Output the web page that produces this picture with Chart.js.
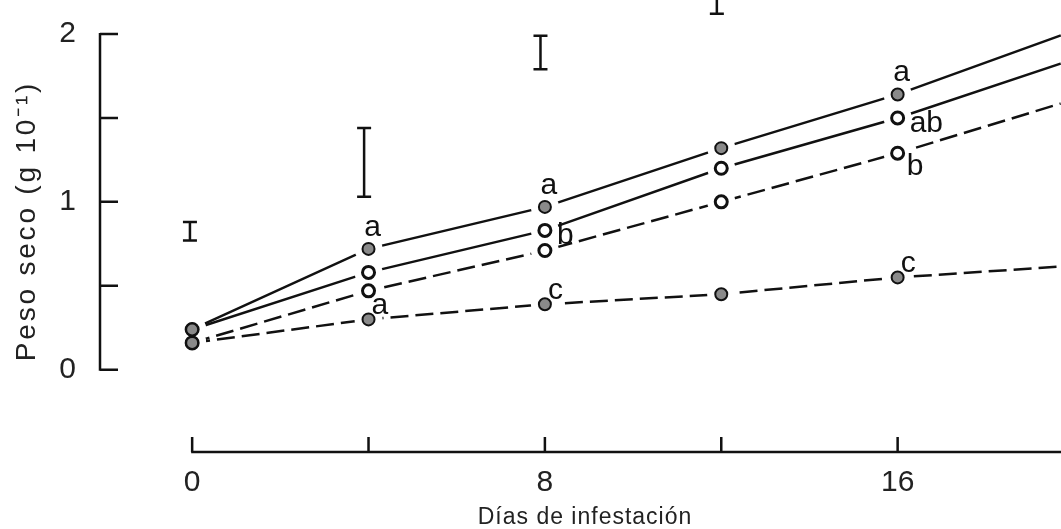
<!DOCTYPE html>
<html><head><meta charset="utf-8">
<script src="https://cdn.jsdelivr.net/npm/chart.js@4"></script>
<style>
html,body{margin:0;padding:0;background:#fff;overflow:hidden;width:1061px;height:529px}
#wrap{width:1100px;height:529px;position:relative}
</style></head>
<body><div id="wrap"><canvas id="c" width="1100" height="529"></canvas></div>
<script>
// ---- data ----
const days = [0, 4, 8, 12, 16, 20];
const solidFilled  = [0.24, 0.72, 0.97, 1.32, 1.64, 2.02];
const solidOpen    = [0.24, 0.58, 0.83, 1.20, 1.50, 1.85];
const dashedOpen   = [0.16, 0.47, 0.71, 1.00, 1.29, 1.61];
const dashedFilled = [0.16, 0.30, 0.39, 0.45, 0.55, 0.62];
const lettersSolidFilled  = ['', 'a', 'a', '', 'a', ''];
const lettersSolidOpen    = ['', '', 'b', '', 'ab', ''];
const lettersDashedOpen   = ['', '', '', '', 'b', ''];
const lettersDashedFilled = ['', 'a', 'c', '', 'c', ''];
const lsdDays = [-0.05, 3.9, 7.9, 11.9];
const lsdLow  = [0.77, 1.03, 1.79, 2.12];
const lsdHigh = [0.88, 1.44, 1.99, 2.45];
const xTickValues = [0, 4, 8, 12, 16, 20];
const xTickLabels = ['0', '', '8', '', '16', ''];
const yTickValues = [0, 0.5, 1, 1.5, 2];
const yTickLabels = ['0', '', '1', '', '2'];
const xTitle = 'Días de infestación';
const yTitle = 'Peso seco (g 10⁻¹)';

// ---- styles ----
const INK = '#111';
const FONT = '"Liberation Sans", Arial, sans-serif';
const DASH = [18, 7];
const HALO = 14;
const markerOrder = [2, 1, 3, 0]; // open markers first, filled ones on top
const placement = {
  above:      {align: 'center', dx: 4,  dy: -13},
  right:      {align: 'left',   dx: 12, dy: 14},
  belowRight: {align: 'left',   dx: 9,  dy: 22},
  aboveRight: {align: 'left',   dx: 3,  dy: -5}
};
const letterSets = [
  {ds: 0, letters: lettersSolidFilled, place: 'above'},
  {ds: 1, letters: lettersSolidOpen, place: 'right'},
  {ds: 2, letters: lettersDashedOpen, place: 'belowRight'},
  {ds: 3, letters: lettersDashedFilled, place: 'aboveRight'}
];

function pts(arr) { return days.map((d, i) => ({x: d, y: arr[i]})); }
function ds(arr, filled, dashed) {
  return {
    data: pts(arr), borderColor: INK, borderWidth: 2.5, borderDash: dashed ? DASH : [],
    pointStyle: 'circle', pointRadius: 6, pointHoverRadius: 6,
    pointBackgroundColor: filled ? '#8a8a8a' : '#fff', pointBorderColor: INK,
    pointBorderWidth: filled ? 2 : 3, pointHoverBorderWidth: filled ? 2 : 3,
    fill: false, tension: 0, clip: false
  };
}

const axesPlugin = {
  id: 'axesDraw',
  beforeDatasetsDraw(chart) {
    const {ctx, chartArea: ca, scales: {x, y}} = chart;
    ctx.save();
    ctx.strokeStyle = INK; ctx.lineWidth = 2.5; ctx.lineCap = 'butt';
    const ax = ca.left;
    ctx.beginPath();
    ctx.moveTo(ax, y.getPixelForValue(yTickValues[0]) + 1);
    ctx.lineTo(ax, y.getPixelForValue(yTickValues[yTickValues.length-1]) - 1);
    yTickValues.forEach(v => { const py = y.getPixelForValue(v); ctx.moveTo(ax, py); ctx.lineTo(ax + 18, py); });
    ctx.stroke();
    const ay = ca.bottom;
    ctx.beginPath();
    ctx.moveTo(x.getPixelForValue(xTickValues[0]) - 1, ay);
    ctx.lineTo(chart.width, ay);
    xTickValues.forEach(v => { const px = x.getPixelForValue(v); ctx.moveTo(px, ay); ctx.lineTo(px, ay - 15); });
    ctx.stroke();
    ctx.restore();
  },
  afterDatasetsDraw(chart) {
    const {ctx, scales: {x, y}} = chart;
    const metas = chart.data.datasets.map((d, i) => chart.getDatasetMeta(i));
    // white gaps around every marker, then redraw the markers on top
    ctx.save();
    ctx.setLineDash([]);
    ctx.fillStyle = '#fff';
    metas.forEach(m => m.data.forEach(el => {
      const p = el.getProps(['x', 'y'], true);
      ctx.beginPath(); ctx.arc(p.x, p.y, HALO, 0, Math.PI * 2); ctx.closePath(); ctx.fill();
    }));
    ctx.restore();
    const big = {left: -1e4, top: -1e4, right: 1e4, bottom: 1e4};
    markerOrder.forEach(i => metas[i].data.forEach(el => el.draw(ctx, big)));
    ctx.save();
    ctx.setLineDash([]);
    ctx.strokeStyle = INK; ctx.lineWidth = 2.5;
    lsdDays.forEach((d, i) => {
      const px = x.getPixelForValue(d), y1 = y.getPixelForValue(lsdLow[i]), y2 = y.getPixelForValue(lsdHigh[i]);
      const cap = 7;
      ctx.beginPath();
      ctx.moveTo(px, y1); ctx.lineTo(px, y2);
      ctx.moveTo(px - cap, y1); ctx.lineTo(px + cap, y1);
      ctx.moveTo(px - cap, y2); ctx.lineTo(px + cap, y2);
      ctx.stroke();
    });
    ctx.fillStyle = INK;
    ctx.font = '30px ' + FONT;
    ctx.textBaseline = 'alphabetic';
    letterSets.forEach(set => {
      const meta = metas[set.ds];
      const p = placement[set.place];
      ctx.textAlign = p.align;
      set.letters.forEach((t, j) => {
        if (!t) return;
        const el = meta.data[j];
        ctx.fillText(t, el.x + p.dx, el.y + p.dy);
      });
    });
    ctx.restore();
  },
  afterDraw(chart) {
    const {ctx} = chart;
    ctx.save();
    ctx.fillStyle = '#222';
    ctx.textAlign = 'center'; ctx.textBaseline = 'alphabetic';
    ctx.letterSpacing = '1px';
    ctx.font = '23px ' + FONT;
    ctx.fillText(xTitle, 585, 524);
    ctx.letterSpacing = '2.8px';
    ctx.font = '28px ' + FONT;
    ctx.translate(35, 221);
    ctx.rotate(-Math.PI / 2);
    ctx.fillText(yTitle, 0, 0);
    ctx.restore();
  }
};

new Chart(document.getElementById('c'), {
  type: 'line',
  data: {
    datasets: [
      ds(solidFilled, true, false),
      ds(solidOpen, false, false),
      ds(dashedOpen, false, true),
      ds(dashedFilled, true, true)
    ]
  },
  options: {
    responsive: false, animation: false,
    layout: {padding: {top: 26, right: 26, left: 0, bottom: 0}},
    plugins: {legend: {display: false}, tooltip: {enabled: false}, title: {display: false}},
    scales: {
      x: {
        type: 'linear', min: -2.09, max: 20,
        grid: {display: false}, border: {display: false},
        afterBuildTicks: s => { s.ticks = xTickValues.map(v => ({value: v})); },
        afterFit: s => { s.height = 77; },
        ticks: {
          autoSkip: false, maxRotation: 0, padding: 5, color: '#222',
          font: {family: FONT, size: 30},
          callback: v => xTickLabels[xTickValues.indexOf(v)] ?? ''
        }
      },
      y: {
        type: 'linear', min: -0.49, max: 2,
        grid: {display: false}, border: {display: false},
        afterBuildTicks: s => { s.ticks = yTickValues.map(v => ({value: v})); },
        afterFit: s => { s.width = 100; },
        ticks: {
          autoSkip: false, padding: 16, color: '#222',
          font: {family: FONT, size: 30},
          callback: v => yTickLabels[yTickValues.indexOf(v)] ?? ''
        }
      }
    }
  },
  plugins: [axesPlugin]
});
</script>
</body></html>
